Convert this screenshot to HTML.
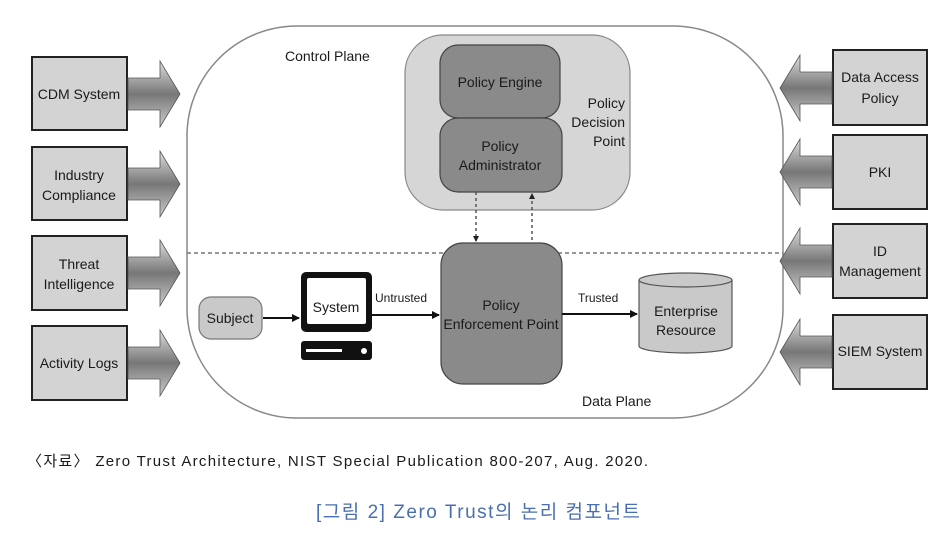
<!DOCTYPE html>
<html><head><meta charset="utf-8"><style>
body{margin:0;background:#fff;width:951px;height:542px;overflow:hidden}
svg text{font-family:"Liberation Sans",sans-serif;fill:#1a1a1a}
</style></head><body>
<svg width="951" height="542" xmlns="http://www.w3.org/2000/svg">
<defs>
<linearGradient id="gl" x1="0" y1="0" x2="0" y2="1"><stop offset="0" stop-color="#ddd"/><stop offset=".5" stop-color="#777"/><stop offset="1" stop-color="#ccc"/></linearGradient>
<marker id="ah" markerWidth="8" markerHeight="8" refX="7" refY="4" orient="auto" markerUnits="userSpaceOnUse"><path d="M0,0L8,4L0,8z" fill="#111"/></marker>
<marker id="as" markerWidth="6" markerHeight="6" refX="5" refY="3" orient="auto" markerUnits="userSpaceOnUse"><path d="M0,0L6,3L0,6z" fill="#222"/></marker>
</defs>
<rect x="187" y="26" width="596" height="392" rx="110" fill="#fff" stroke="#888" stroke-width="1.5"/>
<text x="285" y="61" font-size="14">Control Plane</text>
<text x="582" y="406" font-size="14">Data Plane</text>
<line x1="187" y1="253" x2="783" y2="253" stroke="#777" stroke-width="1.5" stroke-dasharray="4,3"/>
<g stroke="#222" stroke-width="2" fill="#d3d3d3">
<rect x="32" y="57" width="95" height="73"/><rect x="32" y="147" width="95" height="73"/><rect x="32" y="236" width="95" height="74"/><rect x="32" y="326" width="95" height="74"/>
<rect x="833" y="50" width="94" height="75"/><rect x="833" y="135" width="94" height="74"/><rect x="833" y="224" width="94" height="74"/><rect x="833" y="315" width="94" height="74"/>
</g>
<g fill="url(#gl)" stroke="#555" stroke-width="0.8">
<path d="M128,78H160V61L180,94L160,127V110H128z"/>
<path d="M128,168H160V151L180,184L160,217V200H128z"/>
<path d="M128,257H160V240L180,273L160,306V289H128z"/>
<path d="M128,347H160V330L180,363L160,396V379H128z"/>
<path d="M832,72H800V55L780,88L800,121V104H832z"/>
<path d="M832,156H800V139L780,172L800,205V188H832z"/>
<path d="M832,245H800V228L780,261L800,294V277H832z"/>
<path d="M832,336H800V319L780,352L800,385V368H832z"/>
</g>
<g font-size="14" text-anchor="middle">
<text x="79" y="99">CDM System</text>
<text x="79" y="180">Industry</text><text x="79" y="200">Compliance</text>
<text x="79" y="269">Threat</text><text x="79" y="289">Intelligence</text>
<text x="79" y="368">Activity Logs</text>
<text x="880" y="82">Data Access</text><text x="880" y="103">Policy</text>
<text x="880" y="177">PKI</text>
<text x="880" y="256">ID</text><text x="880" y="276">Management</text>
<text x="880" y="356">SIEM System</text>
</g>
<rect x="405" y="35" width="225" height="175" rx="38" fill="#d6d6d6" stroke="#888" stroke-width="1.2"/>
<rect x="440" y="45" width="120" height="73" rx="18" fill="#8a8a8a" stroke="#444" stroke-width="1.2"/>
<rect x="440" y="118" width="122" height="74" rx="18" fill="#8a8a8a" stroke="#444" stroke-width="1.2"/>
<g font-size="14" text-anchor="middle">
<text x="500" y="87">Policy Engine</text>
<text x="500" y="151">Policy</text><text x="500" y="170">Administrator</text>
</g>
<g font-size="14" text-anchor="end"><text x="625" y="108">Policy</text><text x="625" y="127">Decision</text><text x="625" y="146">Point</text></g>
<line x1="476" y1="192" x2="476" y2="241" stroke="#555" stroke-width="1.5" stroke-dasharray="3,3" marker-end="url(#as)"/>
<line x1="532" y1="240" x2="532" y2="194" stroke="#555" stroke-width="1.5" stroke-dasharray="3,3" marker-end="url(#as)"/>
<rect x="441" y="243" width="121" height="141" rx="22" fill="#8a8a8a" stroke="#444" stroke-width="1.2"/>
<g font-size="14" text-anchor="middle"><text x="501" y="310">Policy</text><text x="501" y="329">Enforcement Point</text></g>
<rect x="199" y="297" width="63" height="42" rx="12" fill="#c9c9c9" stroke="#777" stroke-width="1.2"/>
<text x="230" y="323" font-size="14" text-anchor="middle">Subject</text>
<line x1="263" y1="318" x2="299" y2="318" stroke="#111" stroke-width="2" marker-end="url(#ah)"/>
<rect x="301" y="272" width="71" height="60" rx="5" fill="#111"/>
<rect x="307" y="278" width="59" height="46" rx="2" fill="#fff"/>
<text x="336" y="312" font-size="14" text-anchor="middle">System</text>
<rect x="301" y="341" width="71" height="19" rx="3" fill="#111"/>
<rect x="306" y="349" width="36" height="3" fill="#fff"/><circle cx="364" cy="351" r="3" fill="#fff"/>
<line x1="372" y1="315" x2="439" y2="315" stroke="#111" stroke-width="2" marker-end="url(#ah)"/>
<text x="375" y="302" font-size="12">Untrusted</text>
<line x1="562" y1="314" x2="637" y2="314" stroke="#111" stroke-width="2" marker-end="url(#ah)"/>
<text x="578" y="302" font-size="12">Trusted</text>
<path d="M639,280V346A46.5,7 0 0 0 732,346V280" fill="#c9c9c9" stroke="#555" stroke-width="1.2"/>
<ellipse cx="685.5" cy="280" rx="46.5" ry="7" fill="#c9c9c9" stroke="#555" stroke-width="1.2"/>
<g font-size="14" text-anchor="middle"><text x="686" y="316">Enterprise</text><text x="686" y="335">Resource</text></g>
<text x="27" y="466" font-size="15" textLength="621" lengthAdjust="spacing" style="font-family:'Liberation Sans','Noto Sans CJK KR',sans-serif">〈자료〉 Zero Trust Architecture, NIST Special Publication 800-207, Aug. 2020.</text>
<text x="316" y="518" font-size="19" textLength="324" lengthAdjust="spacing" style="font-family:'Liberation Sans','Noto Sans CJK KR',sans-serif;fill:#4a6fb0">[그림 2] Zero Trust의 논리 컴포넌트</text>
</svg>
</body></html>
